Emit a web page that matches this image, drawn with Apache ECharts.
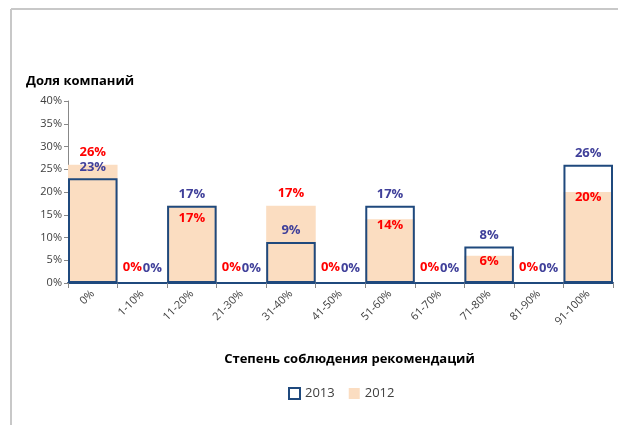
<!DOCTYPE html>
<html><head><meta charset="utf-8">
<script src="https://cdn.jsdelivr.net/npm/echarts@6/dist/echarts.min.js"></script>
<style>html,body{margin:0;padding:0;background:#fff}#c{width:618px;height:425px}</style>
</head><body><div id="c"></div>
<script>
const categories = ['0%','1-10%','11-20%','21-30%','31-40%','41-50%','51-60%','61-70%','71-80%','81-90%','91-100%'];
const values2013 = [23,0,17,0,9,0,17,0,8,0,26];
const values2012 = [26,0,17,0,17,0,14,0,6,0,20];
const yTicks = [0,5,10,15,20,25,30,35,40];

const FONT = '"Open Sans", "Noto Sans", sans-serif';
const blue = '#1F497D';
const labBlue = '#40409A';
const red = '#FF0000';
const peach = '#FBDDC1';

const d2012 = values2012.map((v,i)=>{
  let pos, off;
  if (v===0 && values2013[i]===0) { pos='insideBottom'; off=[-10,-4]; }
  else if (v > values2013[i]) { pos='top'; off=[0,-1]; }
  else { pos='insideTop'; off=[0, v===values2013[i]?1:-6]; }
  return {value:v, label:{position:pos, offset:off}};
});
const d2013 = values2013.map((v,i)=>{
  let off = [0,0];
  if (v===0) off=[10,-4];
  return {value:v, label:{position: v===0?'insideBottom':'top', offset:off}};
});

const chart = echarts.init(document.getElementById('c'));
chart.setOption({
  animation:false,
  backgroundColor:'#fff',
  title:{text:'Доля компаний', left:21, top:70, textStyle:{fontFamily:FONT, fontWeight:'bold', fontSize:13, color:'#000'}},
  grid:{left:68, right:5, top:101, bottom:142},
  legend:{
    bottom:20, left:283, itemGap:14, itemWidth:11, itemHeight:11,
    textStyle:{fontFamily:FONT, fontSize:13, color:'#404040'},
    data:[{name:'2013', icon:'rect', itemStyle:{color:'#fff', borderColor:blue, borderWidth:2}},
          {name:'2012', icon:'rect', itemStyle:{color:peach}}]
  },
  xAxis:{
    type:'category', data:categories,
    name:'Степень соблюдения рекомендаций', nameLocation:'middle', nameGap:70,
    nameTextStyle:{fontFamily:FONT, fontWeight:'bold', fontSize:13, color:'#000', padding:[0,0,0,18]},
    axisLine:{lineStyle:{color:blue, width:2}},
    axisTick:{show:true, alignWithLabel:false, length:5, lineStyle:{color:'#888'}},
    axisLabel:{rotate:45, fontFamily:FONT, fontSize:11, color:'#404040', margin:9, interval:0}
  },
  yAxis:{
    type:'value', min:0, max:40, interval:5,
    axisLine:{show:true, lineStyle:{color:'#888'}},
    axisTick:{show:true, length:4, lineStyle:{color:'#888'}},
    splitLine:{show:false},
    axisLabel:{formatter:v=>v+'%', fontFamily:FONT, fontSize:11, color:'#404040', margin:6}
  },
  series:[
    {name:'2012', type:'bar', data:d2012, barWidth:'100%', barGap:'-100%', z:1,
     itemStyle:{color:peach},
     label:{show:true, formatter:p=>p.value+'%', fontFamily:FONT, fontWeight:'bold', fontSize:13, color:red}},
    {name:'2013', type:'bar', data:d2013, barWidth:'100%', barGap:'-100%', z:2,
     itemStyle:{color:'rgba(0,0,0,0)', borderColor:blue, borderWidth:2},
     label:{show:true, formatter:p=>p.value+'%', fontFamily:FONT, fontWeight:'bold', fontSize:13, color:labBlue}}
  ],
  graphic:[
    {type:'line', shape:{x1:11, y1:9, x2:618, y2:9}, style:{stroke:'#c8c8c8', lineWidth:2}},
    {type:'line', shape:{x1:11, y1:9, x2:11, y2:425}, style:{stroke:'#c8c8c8', lineWidth:2}}
  ]
});
</script></body></html>
